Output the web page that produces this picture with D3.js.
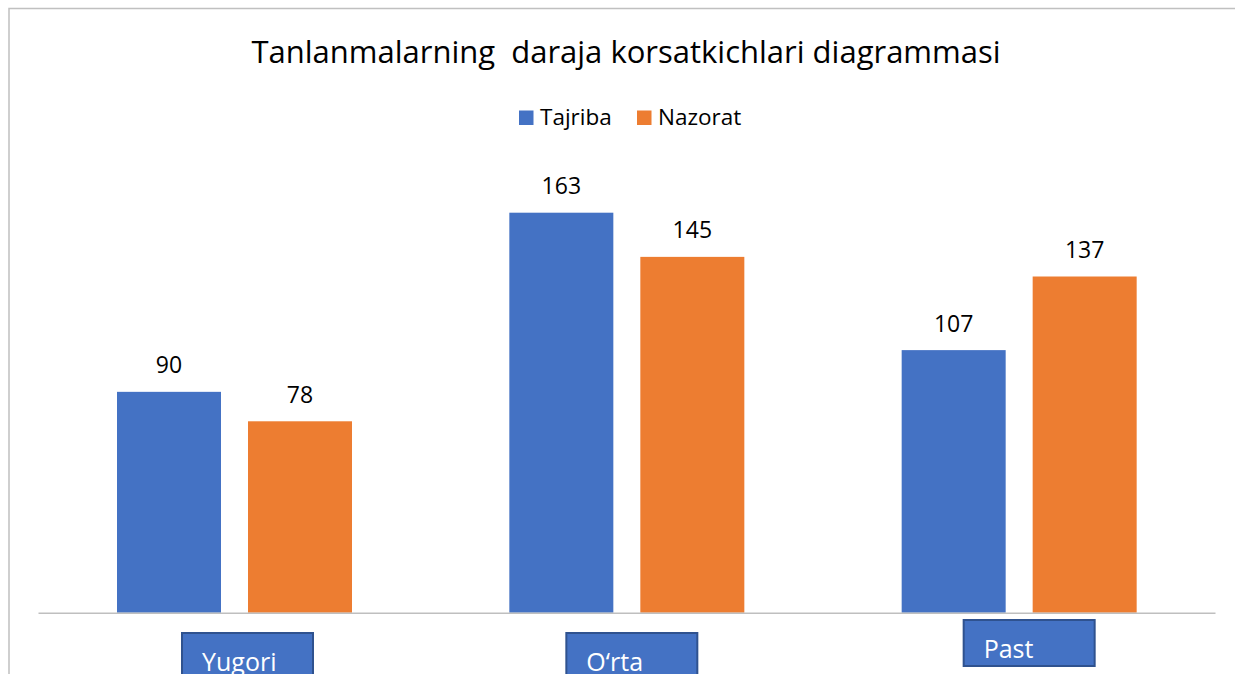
<!DOCTYPE html>
<html>
<head>
<meta charset="utf-8">
<script src="https://cdn.jsdelivr.net/npm/d3@7"></script>
<style>
html,body{margin:0;padding:0;background:#fff;}
svg{display:block;}
text{font-family:"Open Sans",sans-serif;}
</style>
</head>
<body>
<svg id="chart" width="1235" height="674"></svg>
<script>
const categories = ["Yugori", "O\u2018rta", "Past"];
const seriesNames = ["Tajriba", "Nazorat"];
const tajriba = [90, 163, 107];
const nazorat = [78, 145, 137];
const colors = ["#4472C4", "#ED7D31"];
const titleText = "Tanlanmalarning  daraja korsatkichlari diagrammasi";

const svg = d3.select("#chart");
const W = 1235, H = 674;

// frame
svg.append("rect").attr("width", W).attr("height", H).attr("fill", "#fff");
svg.append("path")
  .attr("d", `M9,${H} L9,8.5 L${W},8.5`)
  .attr("fill", "none").attr("stroke", "#C0C0C0").attr("stroke-width", 1.5);

const x0 = d3.scaleBand().domain(categories).range([38, 1215]);
const x1 = d3.scaleBand().domain(seriesNames).range([79, 314]).paddingInner(27 / 131);
const y = d3.scaleLinear().domain([0, 180]).range([612.7, 612.7 - 180 * 2.454]);

const values = [tajriba, nazorat];
const data = [];
categories.forEach((c, i) => {
  seriesNames.forEach((s, j) => data.push({ cat: c, ser: s, v: values[j][i], j }));
});

// title
svg.append("text").attr("x", 626).attr("y", 63).attr("text-anchor", "middle")
  .attr("font-size", 31).attr("fill", "#000").style("white-space", "pre")
  .attr("xml:space", "preserve")
  .text(titleText);

// legend
const legendItems = [{ name: "Tajriba", x: 519 }, { name: "Nazorat", x: 637 }];
legendItems.forEach((d, i) => {
  svg.append("rect").attr("x", d.x).attr("y", 110.5).attr("width", 14.5).attr("height", 14.5)
    .attr("fill", colors[i]);
  svg.append("text").attr("x", d.x + 21).attr("y", 125).attr("font-size", 22.5)
    .attr("fill", "#000").text(d.name);
});

// bars
svg.append("g").selectAll("rect").data(data).join("rect")
  .attr("x", d => x0(d.cat) + x1(d.ser))
  .attr("y", d => y(d.v))
  .attr("width", x1.bandwidth())
  .attr("height", d => y(0) - y(d.v))
  .attr("fill", d => colors[d.j]);

// value labels
svg.append("g").selectAll("text").data(data).join("text")
  .attr("x", d => x0(d.cat) + x1(d.ser) + x1.bandwidth() / 2)
  .attr("y", d => y(d.v) - 18.5)
  .attr("text-anchor", "middle")
  .attr("font-size", 23)
  .attr("fill", "#000")
  .text(d => d.v);

// baseline axis
const axis = d3.axisBottom(x0).tickSize(0).tickFormat("");
const axG = svg.append("g").attr("transform", `translate(0,${y(0)})`).call(axis);
axG.select(".domain").attr("stroke", "#BFBFBF").attr("stroke-width", 1.5);

// category label boxes (free-floating shapes, placed as in the original)
const boxOffsets = [143, 135, 140];
const boxTops = [632, 632, 619];
categories.forEach((c, i) => {
  const bx = x0(c) + boxOffsets[i];
  const g = svg.append("g");
  g.append("rect").attr("x", bx + 1).attr("y", boxTops[i] + 1).attr("width", 131).attr("height", 46)
    .attr("fill", "#4472C4").attr("stroke", "#2F528F").attr("stroke-width", 2);
  g.append("text").attr("x", bx + 21).attr("y", boxTops[i] + 39)
    .attr("font-size", 25).attr("fill", "#fff").text(c);
});
</script>
</body>
</html>
